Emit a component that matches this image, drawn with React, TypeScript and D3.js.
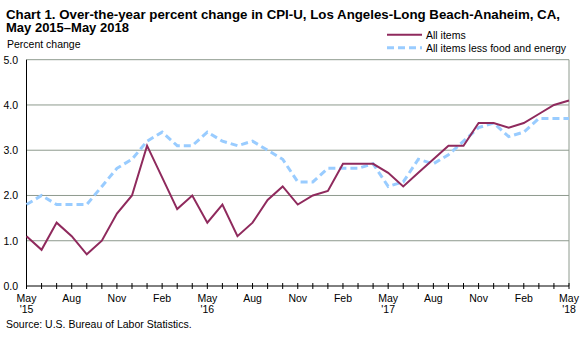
import React from "react";
import * as d3 from "d3";

const months = d3.range(37);
const monthNames = ["May", "Aug", "Nov", "Feb"];
const yearLabels = ["'15", "'16", "'17", "'18"];
const allItems = [1.1, 0.8, 1.4, 1.1, 0.7, 1.0, 1.6, 2.0, 3.1, 2.4, 1.7, 2.0, 1.4, 1.8, 1.1, 1.4, 1.9, 2.2, 1.8, 2.0, 2.1, 2.7, 2.7, 2.7, 2.5, 2.2, 2.5, 2.8, 3.1, 3.1, 3.6, 3.6, 3.5, 3.6, 3.8, 4.0, 4.1];
const coreItems = [1.8, 2.0, 1.8, 1.8, 1.8, 2.2, 2.6, 2.8, 3.2, 3.4, 3.1, 3.1, 3.4, 3.2, 3.1, 3.2, 3.0, 2.8, 2.3, 2.3, 2.6, 2.6, 2.6, 2.7, 2.2, 2.3, 2.8, 2.7, 2.9, 3.2, 3.5, 3.6, 3.3, 3.4, 3.7, 3.7, 3.7];
const yTicks = [0, 1, 2, 3, 4, 5];
const seriesNames = ["All items", "All items less food and energy"];

export default function App() {
  const W = 588, H = 337;
  const left = 26.5, right = 569, top = 59.7, bottom = 286;
  const x = d3.scaleLinear().domain([0, 36]).range([left, right]);
  const y = d3.scaleLinear().domain([0, 5]).range([bottom, top]);
  const line = d3.line<number>().x((_, i) => x(i)).y((d) => y(d));
  const font = "'Liberation Sans', Arial, sans-serif";
  return (
    <svg width={W} height={H} style={{ position: "absolute", left: 0, top: 0, background: "#fff" }} fontFamily={font}>
      <rect width={W} height={H} fill="#fff" />
      <text x={6} y={18.5} fontSize={13} fontWeight="bold" fill="#000" textLength={554} lengthAdjust="spacingAndGlyphs">Chart 1. Over-the-year percent change in CPI-U, Los Angeles-Long Beach-Anaheim, CA,</text>
      <text x={6} y={32} fontSize={13} fontWeight="bold" fill="#000">May 2015–May 2018</text>
      <text x={7} y={48} fontSize={10.5} fill="#000">Percent change</text>
      {yTicks.map((t) => (
        <g key={t}>
          {t > 0 && <line x1={left} x2={right} y1={y(t)} y2={y(t)} stroke="#8e9a8e" strokeWidth={1} />}
          <text x={18} y={y(t) + 3.8} fontSize={10.5} textAnchor="end" fill="#000">{t.toFixed(1)}</text>
        </g>
      ))}
      <line x1={right} x2={right} y1={top} y2={bottom} stroke="#8e9a8e" strokeWidth={1} />
      <line x1={left} x2={left} y1={top} y2={bottom} stroke="#000" strokeWidth={1} />
      <line x1={left} x2={right} y1={bottom} y2={bottom} stroke="#000" strokeWidth={1} />
      {months.map((m) => (
        <line key={m} x1={x(m)} x2={x(m)} y1={bottom - 3} y2={bottom + 3} stroke="#000" strokeWidth={1} />
      ))}
      {months.filter((m) => m % 3 === 0).map((m) => (
        <g key={"l" + m}>
          <text x={x(m)} y={301.7} fontSize={10.5} textAnchor="middle" fill="#000">{monthNames[(m / 3) % 4]}</text>
          {m % 12 === 0 && (
            <text x={x(m)} y={313.3} fontSize={10.5} textAnchor="middle" fill="#000">{yearLabels[m / 12]}</text>
          )}
        </g>
      ))}
      <path d={line(coreItems) || ""} fill="none" stroke="#99ccff" strokeWidth={3} strokeDasharray="7,4" />
      <path d={line(allItems) || ""} fill="none" stroke="#8f2a5d" strokeWidth={2} strokeLinejoin="miter" />
      <line x1={387} x2={422} y1={34.7} y2={34.7} stroke="#8f2a5d" strokeWidth={2} />
      <text x={426} y={38.5} fontSize={10.5} fill="#000">{seriesNames[0]}</text>
      <line x1={387} x2={422} y1={47.7} y2={47.7} stroke="#99ccff" strokeWidth={3} strokeDasharray="7,4" />
      <text x={426} y={51.5} fontSize={10.5} fill="#000">{seriesNames[1]}</text>
      <text x={6} y={327.7} fontSize={10.5} fill="#000">Source: U.S. Bureau of Labor Statistics.</text>
    </svg>
  );
}
